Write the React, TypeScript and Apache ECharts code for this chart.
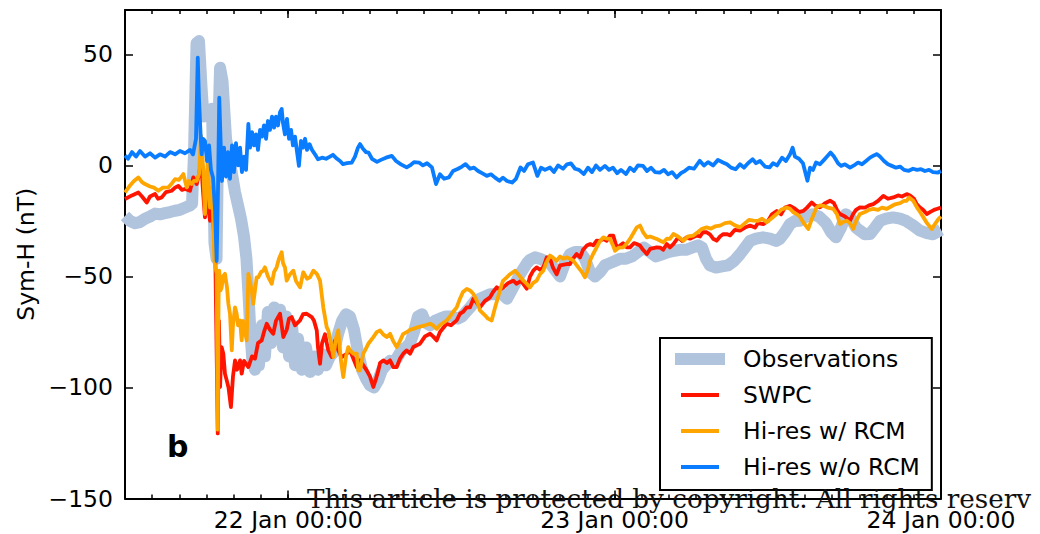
import React, { useEffect, useRef } from 'react';
import * as echarts from 'echarts';

const seriesNames = ['Observations', 'SWPC', 'Hi-res w/ RCM', 'Hi-res w/o RCM'];
const seriesColors = ['#b0c4de', '#ff1400', '#ffa500', '#0a7cff'];
// x values: hours since 21 Jan 00:00
const xTickValues = [24, 48, 72];
const xTickLabels = ['22 Jan 00:00', '23 Jan 00:00', '24 Jan 00:00'];
const yTickValues = [-150, -100, -50, 0, 50];
const panelLabel = 'b';
const watermark = 'This article is protected by copyright. All rights reserv';

const obsData = [
  [12.00, -22.8], [12.37, -25], [12.74, -26], [13.10, -25.5], [13.47, -24], [13.84, -23], [14.21, -21.7], [14.57, -22],
  [14.94, -21.5], [15.31, -21], [15.68, -20.4], [16.04, -20], [16.41, -19], [16.78, -18], [16.93, -17.3], [17.07, 5],
  [17.26, 55], [17.44, 56], [17.63, 35], [17.77, 22], [17.96, 25], [18.18, 24], [18.40, 25.5], [18.58, -35],
  [18.73, -42], [18.84, 10], [18.99, 44], [19.17, 38], [19.43, 12], [19.65, 4], [19.87, -4], [20.09, -12],
  [20.31, -18], [20.53, -24], [20.75, -32], [20.93, -42], [21.08, -58], [21.23, -76], [21.38, -89], [21.56, -92],
  [21.71, -78], [21.85, -90], [22.07, -72], [22.29, -86], [22.51, -66], [22.74, -80], [22.96, -64], [23.18, -78],
  [23.40, -65], [23.62, -82], [23.84, -68], [24.06, -86], [24.28, -72], [24.50, -90], [24.72, -78], [25.01, -92],
  [25.31, -82], [25.60, -93], [25.90, -86], [26.19, -92], [26.49, -85], [26.78, -90], [27.07, -86], [27.37, -84],
  [27.66, -76], [27.96, -70], [28.25, -67], [28.54, -68], [28.84, -74], [29.13, -84], [29.43, -92], [29.72, -96],
  [30.01, -99], [30.31, -100], [30.60, -97], [30.90, -92], [31.19, -90], [31.49, -88], [31.78, -89], [32.07, -86],
  [32.37, -83], [32.66, -82], [32.96, -80], [33.25, -75], [33.54, -68], [33.84, -67], [34.13, -71], [34.43, -72],
  [34.79, -70], [35.16, -69], [35.60, -68], [36.04, -68], [36.49, -69], [36.78, -68], [37.07, -66], [37.37, -64],
  [37.74, -61], [38.10, -60], [38.47, -59], [38.84, -58], [39.21, -58], [39.57, -57], [40.09, -60], [40.53, -55],
  [41.04, -49], [41.56, -44], [41.78, -42.5], [42.15, -41.4], [42.51, -42], [42.88, -43], [43.25, -44], [43.62, -47],
  [43.99, -50], [44.35, -44], [44.72, -40], [45.09, -39], [45.46, -39], [45.82, -42], [46.19, -48], [46.56, -50],
  [46.93, -48], [47.29, -45], [47.66, -44], [48.03, -43], [48.40, -42], [48.84, -42], [49.28, -41], [49.72, -39],
  [50.16, -37], [50.61, -39], [51.04, -41], [51.49, -40], [51.93, -39], [52.37, -38.5], [52.81, -38], [53.25, -38],
  [53.69, -37], [54.13, -36], [54.43, -37], [54.72, -42], [55.01, -45], [55.46, -46], [55.90, -45.5], [56.34, -45],
  [56.79, -43], [57.22, -40], [57.59, -37], [57.96, -34], [58.40, -33], [58.91, -32.4], [59.43, -33], [59.87, -34],
  [60.16, -33], [60.53, -30], [60.90, -26.4], [61.26, -25], [61.62, -24.9], [62.07, -23], [62.59, -22], [63.03, -23],
  [63.54, -26], [63.91, -30], [64.28, -32.4], [64.65, -28], [65.01, -22], [65.38, -24], [65.75, -28], [66.04, -29.4],
  [66.41, -31], [66.78, -30.9], [67.15, -28], [67.51, -25], [67.96, -24], [68.47, -23.4], [68.99, -24], [69.43, -25],
  [69.94, -27], [70.46, -29.4], [70.97, -30.5], [71.41, -31], [71.71, -30], [72.00, -29]
];

const swpcData = [
  [12.00, -15.1], [12.51, -13.5], [12.98, -12.2], [13.25, -14], [13.60, -16.7], [13.84, -14], [14.21, -12.9], [14.43, -15],
  [14.70, -14.4], [15.01, -12], [15.43, -11.4], [15.68, -10], [15.92, -9.2], [16.19, -11], [16.41, -10.6], [16.78, -11.4],
  [17.02, -5.4], [17.27, -8.4], [17.44, -4], [17.59, 2], [17.74, -12], [17.88, -23.4], [18.03, -14], [18.25, -24.9],
  [18.40, -18], [18.54, -30], [18.65, -45], [18.82, -120.7], [18.91, -70], [18.99, -99.8], [19.10, -81.8], [19.23, -84.8],
  [19.35, -93.8], [19.48, -96.8], [19.61, -100], [19.79, -108.8], [19.94, -95], [20.09, -87.8], [20.24, -92], [20.46, -87.8],
  [20.58, -93.8], [20.75, -88], [21.07, -90.8], [21.34, -86], [21.56, -87], [21.78, -80], [22.05, -78.8], [22.22, -75],
  [22.42, -71.3], [22.66, -74], [22.90, -75.8], [23.10, -70], [23.40, -66.8], [23.64, -77.3], [23.89, -74], [24.06, -69],
  [24.26, -68.3], [24.50, -72], [24.87, -69.8], [25.09, -67], [25.36, -66.8], [25.73, -68.3], [25.90, -70], [26.10, -74.3],
  [26.19, -82], [26.34, -89.3], [26.49, -80], [26.71, -76], [26.93, -83], [27.20, -86.3], [27.44, -78.8], [27.68, -83.3],
  [27.93, -86.3], [28.30, -84.8], [28.54, -83.3], [29.04, -90.8], [29.28, -87.8], [29.77, -92.3], [30.01, -95], [30.26, -99.8],
  [30.46, -96], [30.63, -92.3], [30.75, -89], [30.99, -87.8], [31.26, -89], [31.49, -87.8], [31.73, -90.8], [31.98, -90.8],
  [32.22, -87], [32.46, -84.8], [32.71, -83.3], [32.96, -84.8], [33.20, -81.8], [33.69, -80.3], [34.06, -77], [34.43, -75.8],
  [34.65, -77], [34.92, -78.8], [35.16, -75], [35.65, -71.3], [35.97, -72], [36.39, -69.8], [36.63, -66.8], [36.85, -66],
  [37.13, -63.9], [37.37, -63.9], [37.61, -60.1], [37.88, -62], [38.10, -63.9], [38.47, -61], [38.84, -59.4], [39.06, -57],
  [39.33, -54.9], [39.57, -56], [39.82, -54.9], [40.16, -53], [40.55, -51.9], [40.80, -53.3], [41.12, -52], [41.54, -55.5],
  [41.78, -50], [42.02, -47.4], [42.27, -45.9], [42.51, -47], [42.76, -45.9], [43.01, -41.4], [43.25, -42], [43.47, -46],
  [43.74, -49], [43.99, -45], [44.48, -44.4], [44.72, -44.4], [44.94, -42], [45.21, -39.9], [45.46, -41.4], [45.68, -38],
  [45.96, -36.1], [46.21, -35.4], [46.43, -36], [46.68, -33.9], [46.93, -34], [47.17, -33.1], [47.42, -33.9], [47.66, -31.6],
  [47.90, -31.6], [48.15, -36.9], [48.40, -36.1], [48.62, -35], [48.89, -36.9], [49.13, -36.9], [49.43, -35], [49.63, -35.4],
  [49.87, -36.1], [50.09, -38], [50.37, -39.9], [50.61, -37.6], [51.10, -36.9], [51.35, -37], [51.57, -38], [51.84, -35.4],
  [52.07, -36.9], [52.32, -35.4], [52.68, -32.4], [52.96, -34], [53.30, -32.4], [53.54, -33], [54.04, -31.6], [54.28, -32],
  [54.50, -30], [54.77, -30.1], [55.01, -31], [55.24, -33], [55.51, -33.9], [55.75, -32], [55.97, -31], [56.24, -30.9],
  [56.49, -31.5], [56.85, -29], [57.22, -29.4], [57.59, -28], [57.96, -27.1], [58.32, -28], [58.54, -26], [58.93, -26.4],
  [59.28, -25], [59.57, -22], [59.92, -20.5], [60.24, -22], [60.53, -19], [60.90, -18.2], [61.26, -19.5], [61.56, -21],
  [61.88, -20.5], [62.15, -19], [62.49, -16.7], [62.74, -18], [63.10, -18.9], [63.47, -17], [63.84, -15.9], [64.13, -17],
  [64.35, -20], [64.57, -21.9], [64.94, -23], [65.31, -24.9], [65.53, -22], [65.75, -20], [66.04, -18.9], [66.41, -19],
  [66.71, -18], [67.02, -17.4], [67.37, -16], [67.76, -13.7], [68.10, -15], [68.49, -14.4], [68.84, -13.5], [69.13, -14],
  [69.48, -12.9], [69.72, -13.5], [70.01, -15], [70.21, -17.4], [70.46, -19], [70.68, -20], [70.95, -21.9], [71.19, -21],
  [71.49, -20], [71.68, -19.6], [72.00, -19]
];

const rcmData = [
  [12.00, -12.2], [12.37, -9], [12.66, -7], [12.98, -5.4], [13.25, -7.5], [13.47, -8.4], [13.84, -9.5], [14.13, -10],
  [14.45, -11.4], [14.79, -10], [15.18, -9.9], [15.46, -8], [15.68, -6.2], [15.97, -6.5], [16.29, -3.9], [16.54, -9.9],
  [16.71, -7], [16.90, -8.4], [17.07, -7], [17.27, -6.9], [17.44, -4], [17.59, 13.3], [17.76, -2.4], [17.88, -21.9],
  [18.08, 2], [18.25, -19], [18.42, -9.9], [18.57, -42.9], [18.74, -48.8], [18.82, -119], [18.88, -60], [18.93, -47.4],
  [19.02, -56.3], [19.11, -54.9], [19.21, -50], [19.35, -48.8], [19.50, -55], [19.60, -62.3], [19.72, -66.8], [19.85, -83.3],
  [19.94, -72], [20.09, -63.9], [20.21, -66.8], [20.31, -72], [20.46, -69.8], [20.58, -78.8], [20.68, -70], [20.95, -78.8],
  [21.07, -48.8], [21.32, -56.3], [21.43, -62.3], [21.68, -50.4], [21.80, -50.4], [22.00, -48], [22.17, -47.4], [22.29, -45.9],
  [22.51, -50], [22.79, -53.3], [22.96, -48], [23.15, -45.9], [23.32, -42], [23.52, -39.1], [23.62, -44], [23.76, -45.9],
  [23.89, -51.9], [24.13, -49], [24.38, -47.4], [24.57, -52], [24.87, -54.9], [25.11, -48.1], [25.38, -51], [25.60, -50.4],
  [25.85, -47.4], [26.12, -49], [26.34, -51.9], [26.58, -63.9], [26.83, -72.8], [26.95, -74.3], [27.15, -80], [27.32, -86.3],
  [27.51, -78], [27.68, -74.3], [27.88, -88], [28.05, -95.3], [28.25, -86], [28.42, -81.8], [28.54, -83.3], [28.79, -84.8],
  [29.04, -84.8], [29.15, -92.3], [29.28, -92.3], [29.52, -84.8], [29.77, -81.8], [29.89, -80.3], [30.26, -77.3], [30.51, -75.1],
  [30.75, -74.3], [30.97, -76], [31.24, -77.3], [31.49, -75.8], [31.71, -79], [31.98, -81.8], [32.22, -79], [32.44, -76],
  [32.71, -75.1], [32.96, -74], [33.25, -73.5], [33.57, -72.8], [34.06, -72], [34.43, -71.3], [34.65, -72], [34.92, -73.6],
  [35.16, -72], [35.38, -71], [35.65, -69.8], [35.90, -68], [36.12, -66], [36.39, -63.9], [36.63, -60], [36.85, -57],
  [37.13, -55.6], [37.37, -56.3], [37.61, -57.8], [37.88, -61], [38.10, -65.3], [38.47, -67.5], [38.69, -69], [38.96, -69.8],
  [39.21, -64], [39.57, -56.3], [39.79, -52], [40.07, -50.4], [40.31, -49], [40.68, -47.4], [40.97, -49.5], [41.29, -51.9],
  [41.49, -53], [41.78, -54.9], [42.00, -53], [42.27, -51.9], [42.51, -49], [42.76, -47.4], [42.96, -44], [43.25, -40.6],
  [43.47, -41.5], [43.74, -42.9], [43.99, -41], [44.21, -42], [44.48, -41.4], [44.72, -42], [44.96, -42.9], [45.33, -45.9],
  [45.60, -48], [45.82, -50.4], [46.04, -47], [46.19, -42.9], [46.41, -40], [46.68, -36.9], [46.93, -34], [47.17, -32.4],
  [47.42, -33], [47.66, -33.1], [47.88, -36], [48.03, -38.4], [48.32, -37], [48.64, -36.9], [48.91, -35], [49.13, -33.1],
  [49.43, -30], [49.63, -27.9], [49.87, -27.1], [50.09, -30], [50.37, -32.4], [50.61, -32], [51.10, -33.1], [51.35, -33.9],
  [51.59, -34.6], [51.85, -33], [52.07, -33.1], [52.32, -30.9], [52.66, -32], [53.05, -33.9], [53.40, -32], [53.79, -31.6],
  [54.13, -30], [54.43, -28.5], [54.77, -27.9], [55.09, -28.5], [55.38, -27.5], [55.75, -27.1], [56.12, -26], [56.49, -25.6],
  [56.85, -27], [57.22, -27.9], [57.59, -26], [57.88, -24.5], [58.20, -24.9], [58.54, -25], [58.84, -24], [59.18, -25.6],
  [59.50, -24], [59.92, -21.9], [60.24, -20], [60.65, -18.9], [60.90, -19.5], [61.12, -21], [61.38, -21.9], [61.62, -23],
  [61.91, -26], [62.24, -28.6], [62.51, -24], [62.85, -18.9], [63.10, -18], [63.35, -18.2], [63.69, -19], [64.08, -19.6],
  [64.35, -22], [64.57, -26.4], [64.79, -25.5], [65.07, -24.9], [65.31, -26], [65.55, -28.6], [65.75, -25], [66.04, -21.9],
  [66.41, -21], [66.71, -20], [67.02, -19.6], [67.37, -20], [67.66, -19], [68.01, -19.6], [68.32, -18.5], [68.62, -17.5],
  [68.99, -17], [69.28, -16], [69.48, -15.9], [69.65, -14.4], [69.96, -15.9], [70.24, -19], [70.46, -21], [70.71, -23.4],
  [70.97, -26], [71.32, -28.6], [71.49, -27], [71.82, -24.1], [72.00, -23]
];

const noRcmData = [
  [12.00, 4.5], [12.22, 3.0], [12.51, 6.0], [12.81, 4.0], [13.10, 6.5], [13.47, 4.0], [13.84, 5.5], [14.21, 3.5],
  [14.57, 5.0], [14.94, 4.0], [15.31, 6.0], [15.68, 5.0], [16.04, 6.5], [16.41, 5.5], [16.78, 7.0], [17.00, 5.0],
  [17.22, 12], [17.35, 48.5], [17.44, 30], [17.55, 15], [17.64, 5], [17.74, 12], [17.88, 11], [18.03, 2],
  [18.18, 9], [18.32, -2], [18.47, -5.4], [18.62, -20], [18.74, -43], [18.84, -10], [18.93, 30.5], [19.06, 5],
  [19.13, -7], [19.28, 8], [19.43, -5], [19.57, 6], [19.72, -6], [19.87, 9], [20.01, -3], [20.16, 10],
  [20.31, 0], [20.46, 8], [20.60, -3], [20.75, 4], [20.90, -2], [21.07, 18.7], [21.19, 8], [21.34, 15],
  [21.49, 9], [21.63, 14], [21.78, 7], [21.93, 16], [22.07, 13], [22.22, 18], [22.37, 12], [22.51, 20],
  [22.66, 16], [22.81, 22], [22.96, 17], [23.10, 22], [23.25, 18], [23.40, 24], [23.52, 25.4], [23.62, 19],
  [23.76, 14], [23.91, 21], [24.06, 12], [24.21, 16], [24.35, 9], [24.50, 13], [24.65, 6], [24.79, -0.2],
  [24.94, 11], [25.09, 8], [25.24, 12], [25.38, 7], [25.57, 9.6], [25.75, 7], [25.97, 5], [26.19, 2.8],
  [26.49, 3.5], [26.78, 3], [27.07, 4], [27.29, 4.8], [27.59, 3], [27.81, 2], [28.03, 0.6], [28.32, 1],
  [28.67, 1.3], [28.91, 4], [29.13, 8], [29.28, 9.6], [29.50, 7.5], [29.72, 6], [29.91, 5.8], [30.16, 3],
  [30.53, 1.6], [30.82, 2.5], [31.19, 3.5], [31.62, 4.3], [31.93, 2], [32.29, 0.5], [32.71, -0.9], [32.96, 0],
  [33.25, 1.5], [33.62, 1.3], [33.91, 0], [34.21, 1], [34.57, -0.9], [34.87, -8.4], [35.16, -4], [35.46, -6],
  [35.81, -5.4], [36.12, -2.5], [36.49, -1.5], [36.78, -0.5], [37.04, 0.6], [37.37, -1.5], [37.66, -1], [37.96, -2.5],
  [38.25, -3.5], [38.60, -4.7], [38.91, -4], [39.21, -5.5], [39.53, -6.9], [39.79, -5.5], [40.09, -7], [40.46, -7.7],
  [40.75, -6], [41.08, -0.9], [41.34, -2.5], [41.63, 0.5], [42.00, 1.3], [42.32, -4.7], [42.59, -1], [42.88, -2],
  [43.25, -0.9], [43.54, -3], [43.84, 0], [44.21, -1.5], [44.50, 0.5], [44.79, 0.9], [45.09, -1.5], [45.38, -2],
  [45.74, -3.9], [46.04, -1], [46.34, -3], [46.63, 0], [46.93, -2], [47.29, -0.2], [47.59, -2], [47.88, -1],
  [48.18, -3.5], [48.47, -2], [48.84, -3.9], [49.13, -1], [49.43, -2.5], [49.72, 0], [50.09, -0.2], [50.38, -2.5],
  [50.68, -1], [50.97, -3], [51.32, -3.2], [51.63, -2], [51.93, -4], [52.22, -3], [52.56, -5.4], [52.88, -3.5],
  [53.18, -2.4], [53.47, -1], [53.84, -1.5], [54.26, 2.1], [54.57, 0], [54.87, 1.5], [55.24, 0], [55.60, 2.5],
  [55.97, 1.3], [56.26, 0.5], [56.56, -1], [56.90, -1.7], [57.22, 0.5], [57.51, -1], [57.81, 1], [58.15, 2.8],
  [58.40, 1], [58.69, 2], [59.06, -0.5], [59.39, -0.9], [59.65, 1], [59.94, 0], [60.31, 3.5], [60.60, 2],
  [60.90, 5], [61.09, 8], [61.26, 4], [61.56, 3], [61.85, 1], [62.18, -6.9], [62.37, -1], [62.59, -2],
  [62.81, 1.3], [63.10, 0.5], [63.40, 2.5], [63.62, 4], [63.88, 5.8], [64.13, 4], [64.43, 1], [64.65, -0.2],
  [64.94, 0.5], [65.31, -1], [65.60, 0], [65.90, 1.3], [66.19, 0.5], [66.49, 2], [66.78, 3.5], [67.07, 4.5],
  [67.29, 5.1], [67.51, 4], [67.81, 2], [68.10, 0.5], [68.38, -0.2], [68.69, -1], [68.99, -0.5], [69.28, -2],
  [69.63, -2.4], [69.94, -1.5], [70.24, -2], [70.53, -1.7], [70.82, -2.5], [71.12, -2], [71.41, -3], [71.78, -3.2],
  [72.00, -2.5]
];

const FONT = 'DejaVu Sans';
const FS = 23.5;

export default function App() {
  const ref = useRef<HTMLDivElement>(null);
  useEffect(() => {
    if (!ref.current) return;
    const chart = echarts.init(ref.current, undefined, { renderer: 'svg' });
    const axisLine = { show: true, onZero: false, lineStyle: { color: '#000', width: 2 } };
    const tickStyle = { color: '#000', width: 1.5 };
    const baseX = { type: 'value', min: 12, max: 72, interval: 2, splitLine: { show: false } };
    const baseY = { type: 'value', min: -150, max: 70, interval: 50, splitLine: { show: false } };
    const xFmt = (v: number) => {
      const i = xTickValues.indexOf(v);
      return i >= 0 ? xTickLabels[i] : '';
    };
    const yFmt = (v: number) => (v < 0 ? '\u2212' + Math.abs(v) : String(v));
    const data = [obsData, swpcData, rcmData, noRcmData];
    const widths = [12, 3.8, 3.8, 3.8];
    chart.setOption({
      animation: false,
      backgroundColor: '#fff',
      textStyle: { fontFamily: FONT },
      grid: { left: 125, right: 99, top: 10, bottom: 35.5, containLabel: false },
      xAxis: [
        {
          ...baseX, position: 'bottom', axisLine,
          axisTick: { show: true, inside: true, length: 4, lineStyle: tickStyle },
          axisLabel: { show: true, customValues: xTickValues, formatter: xFmt, color: '#000', fontSize: FS, fontFamily: FONT, margin: 9 }
        },
        {
          ...baseX, position: 'bottom', axisLine: { show: false, onZero: false },
          axisTick: { show: true, inside: true, length: 8, customValues: xTickValues, lineStyle: tickStyle },
          axisLabel: { show: false }
        },
        {
          ...baseX, position: 'top', axisLine,
          axisTick: { show: true, inside: true, length: 4, lineStyle: tickStyle },
          axisLabel: { show: false }
        },
        {
          ...baseX, position: 'top', axisLine: { show: false, onZero: false },
          axisTick: { show: true, inside: true, length: 8, customValues: xTickValues, lineStyle: tickStyle },
          axisLabel: { show: false }
        }
      ],
      yAxis: [
        {
          ...baseY, position: 'left', axisLine,
          axisTick: { show: true, inside: true, length: 8, customValues: yTickValues, lineStyle: tickStyle },
          axisLabel: { show: true, customValues: yTickValues, formatter: yFmt, color: '#000', fontSize: FS, fontFamily: FONT, margin: 12 },
          name: 'Sym-H (nT)', nameLocation: 'middle', nameGap: 85,
          nameTextStyle: { color: '#000', fontSize: FS, fontFamily: FONT }
        },
        {
          ...baseY, position: 'right', axisLine,
          axisTick: { show: true, inside: true, length: 8, customValues: yTickValues, lineStyle: tickStyle },
          axisLabel: { show: false }
        }
      ],
      legend: {
        orient: 'vertical', left: 660, top: 338,
        data: seriesNames.map((n, i) => ({ name: n, lineStyle: { width: i === 0 ? 12 : 4, cap: i === 0 ? 'square' : 'butt' } })),
        itemWidth: 38, itemHeight: 14, itemGap: 12,
        itemStyle: { opacity: 0 },
        padding: [9, 12, 11, 15],
        borderColor: '#000', borderWidth: 2, borderRadius: 0, backgroundColor: '#fff',
        textStyle: { fontSize: FS, color: '#000', fontFamily: FONT, padding: [0, 0, 0, 19] },
        selectedMode: false
      },
      graphic: [
        { type: 'text', left: 167, top: 431, z: 100, style: { text: panelLabel, font: 'bold 30px "DejaVu Sans"', fill: '#000' } },
        { type: 'text', left: 307, top: 486, z: 100, style: { text: watermark, font: '26.2px "DejaVu Serif"', fill: '#111' } }
      ],
      series: seriesNames.map((n, i) => ({
        name: n, type: 'line', xAxisIndex: 0, yAxisIndex: 0,
        data: data[i], showSymbol: false, symbol: 'none', clip: true,
        color: seriesColors[i],
        lineStyle: { color: seriesColors[i], width: widths[i], join: 'round', cap: 'butt' },
        z: 2 + i
      }))
    });
    return () => chart.dispose();
  }, []);
  return <div ref={ref} style={{ position: 'fixed', left: 0, top: 0, width: 1040, height: 534 }} />;
}
